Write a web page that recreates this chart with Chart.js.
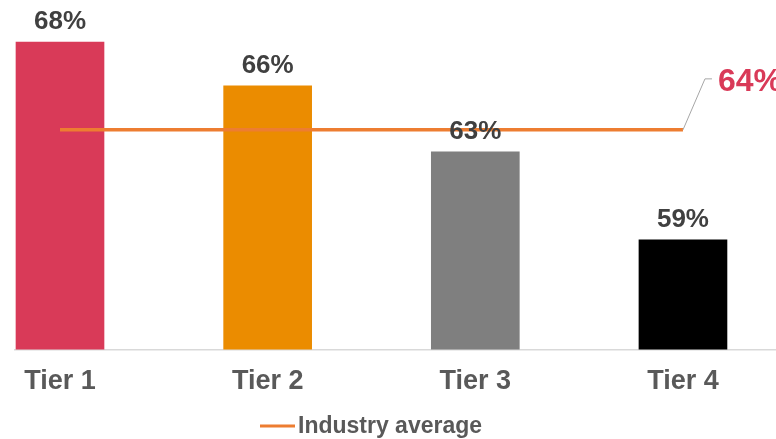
<!DOCTYPE html>
<html>
<head>
<meta charset="utf-8">
<script src="https://cdn.jsdelivr.net/npm/chart.js@4/dist/chart.umd.min.js"></script>
<style>
  html, body { margin: 0; padding: 0; background: #fff; }
  #wrap { width: 776px; height: 439px; }
</style>
</head>
<body>
<div id="wrap"><canvas id="chart"></canvas></div>
<script>
const tiers = ["Tier 1", "Tier 2", "Tier 3", "Tier 4"];
const tierShares = [68, 66, 63, 59];
const industryAverage = [64, 64, 64, 64];
const averageLabel = "Industry average";
const barColors = ["#D93A58", "#EB8C00", "#7F7F7F", "#000000"];

const FONT = "'Liberation Sans', Arial, sans-serif";
const AVG_COLOR = "#ED7D31";

const toPoints = (values) => values.map((v, i) => ({ x: i + 1, y: v }));

// value labels over the bars, the callout for the average and the legend row
const annotations = {
  id: "annotations",
  afterDatasetsDraw(chart) {
    const ctx = chart.ctx;
    const bars = chart.getDatasetMeta(0).data;

    ctx.save();
    ctx.font = `bold 26px ${FONT}`;
    ctx.fillStyle = "#404040";
    ctx.textAlign = "center";
    ctx.textBaseline = "alphabetic";
    bars.forEach((bar, i) => {
      ctx.fillText(tierShares[i] + "%", bar.x, bar.y - 13);
    });

    const points = chart.getDatasetMeta(1).data;
    const last = points[points.length - 1];
    ctx.strokeStyle = "#A6A6A6";
    ctx.lineWidth = 1;
    ctx.beginPath();
    ctx.moveTo(last.x, last.y);
    ctx.lineTo(last.x + 22, last.y - 51);
    ctx.lineTo(last.x + 29, last.y - 51);
    ctx.stroke();

    ctx.font = `bold 32px ${FONT}`;
    ctx.fillStyle = "#D93A58";
    ctx.textAlign = "left";
    ctx.fillText(industryAverage[industryAverage.length - 1] + "%", last.x + 35, last.y - 39);

    // legend
    const lx = 260;
    const ly = 426;
    ctx.strokeStyle = AVG_COLOR;
    ctx.lineWidth = 3;
    ctx.beginPath();
    ctx.moveTo(lx, ly);
    ctx.lineTo(lx + 35, ly);
    ctx.stroke();
    ctx.font = `bold 23px ${FONT}`;
    ctx.fillStyle = "#595959";
    ctx.fillText(averageLabel, lx + 38, ly + 7);
    ctx.restore();
  },
};

new Chart(document.getElementById("chart"), {
  type: "bar",
  data: {
    datasets: [
      {
        type: "bar",
        label: "Share",
        data: toPoints(tierShares),
        backgroundColor: barColors,
        barThickness: 88,
        order: 1,
      },
      {
        type: "line",
        label: averageLabel,
        data: toPoints(industryAverage),
        borderColor: AVG_COLOR,
        borderWidth: 3.5,
        pointRadius: 0,
        fill: false,
        order: 0,
      },
    ],
  },
  options: {
    responsive: true,
    maintainAspectRatio: false,
    animation: false,
    layout: { padding: { left: 15, right: 0, top: 0, bottom: 25 } },
    plugins: {
      legend: { display: false },
      tooltip: { enabled: false },
    },
    scales: {
      x: {
        type: "linear",
        offset: false,
        min: 0.7833,
        max: 4.448,
        grid: { display: false, drawTicks: false },
        border: { display: true, color: "#D9D9D9", width: 1.5 },
        afterBuildTicks: (scale) => {
          scale.ticks = tiers.map((_, i) => ({ value: i + 1 }));
        },
        ticks: {
          padding: 16,
          color: "#595959",
          font: { family: FONT, size: 27, weight: "bold" },
          maxRotation: 0,
          autoSkip: false,
          callback: (v) => tiers[v - 1] ?? "",
        },
      },
      y: { display: false, min: 54, max: 69.91 },
    },
  },
  plugins: [annotations],
});
</script>
</body>
</html>
